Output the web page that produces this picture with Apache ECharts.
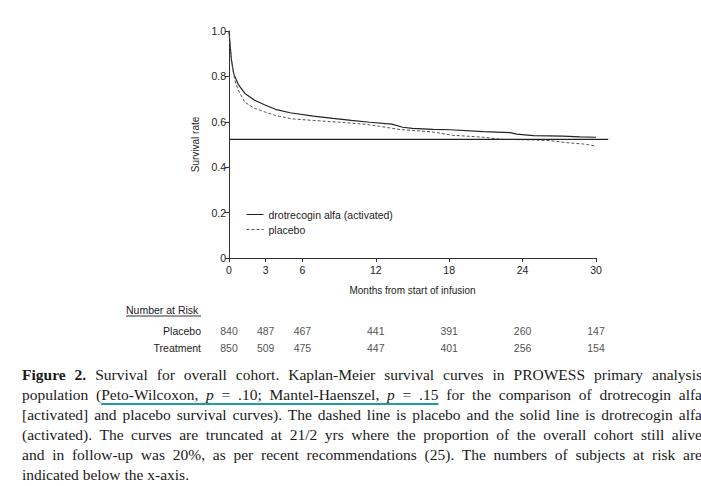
<!DOCTYPE html>
<html>
<head>
<meta charset="utf-8">
<script src="https://cdn.jsdelivr.net/npm/echarts@6/dist/echarts.min.js"></script>
<style>
	html, body {margin:0; padding:0; background:#fff; overflow:hidden;}
	#chart {position:absolute; left:0; top:0; width:701px; height:486px;}
	.caption {position:absolute; left:22px; top:365px; width:680px; font-family:"Liberation Serif", serif; font-size:15.5px; line-height:20px; color:#1a1a1a;}
	.caption div {text-align:justify; text-align-last:justify; white-space:nowrap;}
	.caption div.last {text-align:left; text-align-last:left;}
	.caption .ul {text-decoration:underline; text-decoration-color:#1e9ca0; text-decoration-thickness:2px; text-underline-offset:3px;}
</style>
</head>
<body>
<div id="chart"></div>
<div class="caption">
	<div><b>Figure 2.</b> Survival for overall cohort. Kaplan-Meier survival curves in PROWESS primary analysis</div>
	<div>population (<span class="ul">Peto-Wilcoxon, <i>p</i> = .10; Mantel-Haenszel, <i>p</i> = .15</span> for the comparison of drotrecogin alfa</div>
	<div>[activated] and placebo survival curves). The dashed line is placebo and the solid line is drotrecogin alfa</div>
	<div>(activated). The curves are truncated at 21/2 yrs where the proportion of the overall cohort still alive</div>
	<div>and in follow-up was 20%, as per recent recommendations (25). The numbers of subjects at risk are</div>
	<div class="last">indicated below the x-axis.</div>
</div>
<script>
	// survival curves (months, survival rate)
	var treatMonths = [0, 0.1, 0.2, 0.4, 0.75, 1.3, 2.1, 2.9, 3.8, 5.0, 6.9, 8.5, 10.0, 11.5, 13.3, 14.2, 15.0, 16.7, 18.1, 20.8, 23.0, 23.5, 24.9, 27.3, 28.7, 30];
	var treatment = [1.0, 0.93, 0.87, 0.81, 0.765, 0.725, 0.695, 0.675, 0.655, 0.640, 0.625, 0.615, 0.606, 0.598, 0.590, 0.576, 0.571, 0.567, 0.565, 0.557, 0.552, 0.546, 0.539, 0.537, 0.534, 0.532];
	var placeboMonths = [0, 0.1, 0.3, 0.5, 0.75, 1.3, 2.1, 2.9, 3.8, 5.1, 6.9, 8.5, 9.6, 11.3, 12.3, 14.0, 16.7, 18.2, 20.8, 22.2, 24.9, 26.2, 27.6, 29.0, 30];
	var placebo = [1.0, 0.93, 0.83, 0.78, 0.74, 0.686, 0.659, 0.644, 0.628, 0.613, 0.606, 0.600, 0.596, 0.588, 0.580, 0.566, 0.555, 0.541, 0.532, 0.523, 0.520, 0.517, 0.508, 0.502, 0.493];
	var refLevel = 0.523;
	var refEnd = 31;
	var xTicks = [0, 3, 6, 12, 18, 24, 30];
	var yTicks = [0, 0.2, 0.4, 0.6, 0.8, 1.0];
	var yTickLabels = ['0', '0.2', '0.4', '0.6', '0.8', '1.0'];
	// number at risk table
	var riskGroups = ['Placebo', 'Treatment'];
	var riskMonths = [0, 3, 6, 12, 18, 24, 30];
	var riskPlacebo = [840, 487, 467, 441, 391, 260, 147];
	var riskTreatment = [850, 509, 475, 447, 401, 256, 154];

	var font = '"Liberation Sans", Arial, sans-serif';
	var plotLeft = 229, plotTop = 31, plotW = 367, plotH = 227;

	function zip(xs, ys) {
		return xs.map(function (x, i) { return [x, ys[i]]; });
	}
	var riskData = [];
	riskMonths.forEach(function (m, i) {
		riskData.push([m, riskGroups[0], riskPlacebo[i]]);
		riskData.push([m, riskGroups[1], riskTreatment[i]]);
	});

	var myChart = echarts.init(document.getElementById('chart'), null, {renderer: 'svg'});
	var option = {
		animation: false,
		backgroundColor: '#fff',
		textStyle: {fontFamily: font, color: '#222'},
		grid: [
			{left: plotLeft, top: plotTop, width: plotW, height: plotH},
			{left: plotLeft, top: plotTop, width: plotW * refEnd / 30, height: plotH},
			{left: plotLeft, top: 322, width: plotW, height: 34}
		],
		legend: {
			orient: 'vertical',
			left: 241,
			top: 204,
			itemWidth: 17,
			itemHeight: 10,
			itemGap: 4,
			itemStyle: {opacity: 0},
			lineStyle: {width: 1},
			textStyle: {fontFamily: font, fontSize: 10.5, color: '#222'},
			data: ['drotrecogin alfa (activated)', 'placebo']
		},
		xAxis: [
			{
				gridIndex: 0, type: 'value', min: 0, max: 30,
				name: 'Months from start of infusion', nameLocation: 'middle', nameGap: 27,
				nameTextStyle: {fontFamily: font, fontSize: 10, color: '#222'},
				axisLine: {lineStyle: {color: '#333', width: 1}},
				axisTick: {show: true, length: 4, customValues: xTicks, lineStyle: {color: '#333'}},
				axisLabel: {customValues: xTicks, fontSize: 10.5, color: '#222', margin: 6},
				splitLine: {show: false}
			},
			{gridIndex: 1, type: 'value', min: 0, max: refEnd, show: false},
			{gridIndex: 2, type: 'value', min: 0, max: 30, show: false}
		],
		yAxis: [
			{
				gridIndex: 0, type: 'value', min: 0, max: 1, interval: 0.2,
				name: 'Survival rate', nameLocation: 'middle', nameGap: 28,
				nameTextStyle: {fontFamily: font, fontSize: 10, color: '#222'},
				axisLine: {show: true, lineStyle: {color: '#333', width: 1}},
				axisTick: {show: true, length: 4, lineStyle: {color: '#333'}},
				axisLabel: {
					fontSize: 10.5, color: '#222', margin: 3,
					formatter: function (v) {
						var i = yTicks.indexOf(Math.round(v * 10) / 10);
						return i >= 0 ? yTickLabels[i] : '';
					}
				},
				splitLine: {show: false}
			},
			{gridIndex: 1, type: 'value', min: 0, max: 1, show: false},
			{
				gridIndex: 2, type: 'category', data: riskGroups, inverse: true,
				axisLine: {show: false}, axisTick: {show: false},
				axisLabel: {fontSize: 10.5, color: '#222', margin: 28}
			}
		],
		graphic: [
			{type: 'text', left: 126, top: 304, style: {text: 'Number at Risk', fontFamily: font, fontSize: 10.5, fill: '#222'}},
			{type: 'line', shape: {x1: 126, y1: 316, x2: 201, y2: 316}, style: {stroke: '#333', lineWidth: 1}}
		],
		series: [
			{
				name: 'drotrecogin alfa (activated)', type: 'line', xAxisIndex: 0, yAxisIndex: 0,
				data: zip(treatMonths, treatment), symbol: 'none',
				lineStyle: {color: '#222', width: 1.2},
				itemStyle: {color: '#222'}
			},
			{
				name: 'placebo', type: 'line', xAxisIndex: 0, yAxisIndex: 0,
				data: zip(placeboMonths, placebo), symbol: 'none',
				lineStyle: {color: '#555', width: 1, type: [3, 2]},
				itemStyle: {color: '#555'}
			},
			{
				name: 'reference', type: 'line', xAxisIndex: 1, yAxisIndex: 1,
				data: [[0, refLevel], [refEnd, refLevel]], symbol: 'none', silent: true,
				lineStyle: {color: '#222', width: 1.3}
			},
			{
				name: 'risk', type: 'scatter', xAxisIndex: 2, yAxisIndex: 2,
				data: riskData, symbolSize: 1, itemStyle: {color: 'rgba(0,0,0,0)'},
				label: {
					show: true, position: 'inside', fontFamily: font, fontSize: 10.5, color: '#222',
					formatter: function (p) { return p.value[2]; }
				}
			}
		]
	};
	myChart.setOption(option);
</script>
</body>
</html>
